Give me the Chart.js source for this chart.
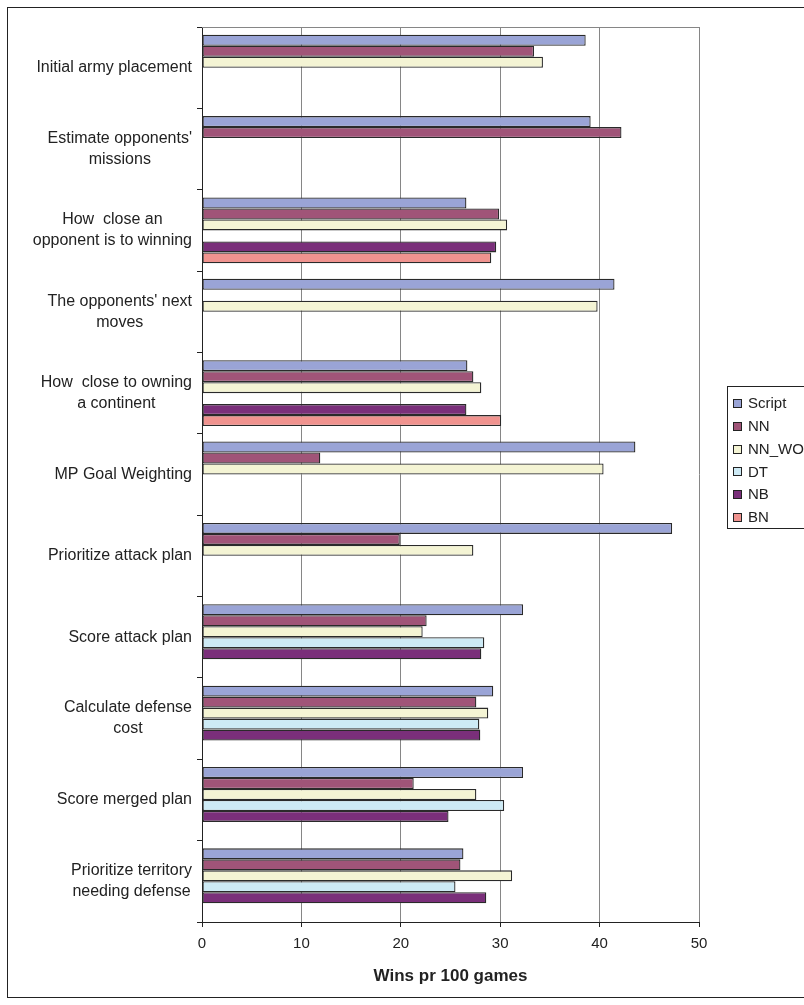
<!DOCTYPE html>
<html>
<head>
<meta charset="utf-8">
<script src="https://cdn.jsdelivr.net/npm/chart.js@4/dist/chart.umd.min.js"></script>
<style>
  html, body { margin: 0; padding: 0; background: #fff; }
  #wrap { width: 804px; height: 1005px; position: relative; }
</style>
</head>
<body>
<div id="wrap"><canvas id="c" width="804" height="1005"></canvas></div>
<script>
const categories = [
  ["Initial army placement"],
  ["Estimate opponents'", "missions"],
  ["How  close an", "opponent is to winning"],
  ["The opponents' next", "moves"],
  ["How  close to owning", "a continent"],
  ["MP Goal Weighting"],
  ["Prioritize attack plan"],
  ["Score attack plan"],
  ["Calculate defense", "cost"],
  ["Score merged plan"],
  ["Prioritize territory", "needing defense"]
];
const seriesNames = ["Script", "NN", "NN_WO", "DT", "NB", "BN"];
const scriptVals = [38.6, 39.1, 26.6, 41.5, 26.7, 43.6, 47.3, 32.3, 29.3, 32.3, 26.3];
const nnVals     = [33.4, 42.2, 29.9, null, 27.3, 11.9, 19.9, 22.6, 27.6, 21.3, 26.0];
const nnWoVals   = [34.3, null, 30.7, 39.8, 28.1, 40.4, 27.3, 22.2, 28.8, 27.6, 31.2];
const dtVals     = [null, null, null, null, null, null, null, 28.4, 27.9, 30.4, 25.5];
const nbVals     = [null, null, 29.6, null, 26.6, null, null, 28.1, 28.0, 24.8, 28.6];
const bnVals     = [null, null, 29.1, null, 30.1, null, null, null, null, null, null];
const xTicks = [0, 10, 20, 30, 40, 50];
const xTitle = "Wins pr 100 games";

const colors = ["#9AA4D6", "#A05478", "#F4F4D4", "#CDEAF5", "#7A2F7A", "#F0938F"];
const allVals = [scriptVals, nnVals, nnWoVals, dtVals, nbVals, bnVals];

const FONT = "'Liberation Sans', Arial, sans-serif";
const TEXT = "#222";

const bgPlugin = {
  id: 'bg',
  beforeDraw(chart) {
    const ctx = chart.ctx;
    ctx.save();
    ctx.fillStyle = '#fff';
    ctx.fillRect(0, 0, chart.width, chart.height);
    ctx.strokeStyle = '#222';
    ctx.lineWidth = 1;
    ctx.strokeRect(7.5, 7.5, 900, 990);
    ctx.restore();
  },
  afterDraw(chart) {
    const ctx = chart.ctx;
    const a = chart.chartArea;
    ctx.save();
    // top border of plot area
    ctx.strokeStyle = '#868686';
    ctx.lineWidth = 1;
    ctx.beginPath();
    ctx.moveTo(a.left, Math.round(a.top) + 0.5);
    ctx.lineTo(a.right, Math.round(a.top) + 0.5);
    ctx.stroke();

    // category labels: block right-aligned, lines centered within block
    const ys = chart.scales.y;
    ctx.font = "16px " + FONT;
    ctx.fillStyle = TEXT;
    ctx.textBaseline = 'middle';
    ctx.textAlign = 'center';
    const lh = 21;
    const rightEdge = 192;
    categories.forEach((lines, i) => {
      const yc = ys.getPixelForTick(i);
      const w = Math.max(...lines.map(l => ctx.measureText(l).width));
      const cx = rightEdge - w / 2;
      const y0 = yc - (lines.length - 1) * lh / 2;
      lines.forEach((l, k) => ctx.fillText(l, cx, y0 + k * lh));
    });

    // legend box
    const lx = 727.5, ly = 386.5, lw = 120, lhBox = 142;
    ctx.strokeStyle = '#222';
    ctx.fillStyle = '#fff';
    ctx.fillRect(lx, ly, lw, lhBox);
    ctx.strokeRect(lx, ly, lw, lhBox);
    ctx.font = "15px " + FONT;
    ctx.textAlign = 'left';
    ctx.textBaseline = 'middle';
    chart.data.datasets.forEach((ds, i) => {
      const yy = 403 + i * 22.8;
      ctx.fillStyle = ds.backgroundColor;
      ctx.fillRect(733.5, Math.round(yy - 4) + 0.5, 8, 8);
      ctx.strokeStyle = '#222';
      ctx.strokeRect(733.5, Math.round(yy - 4) + 0.5, 8, 8);
      ctx.fillStyle = TEXT;
      ctx.fillText(ds.label, 748, yy + 1);
    });
    ctx.restore();
  }
};

const chart = new Chart(document.getElementById('c'), {
  type: 'bar',
  data: {
    labels: categories.map(l => l.join(' ')),
    datasets: seriesNames.map((n, i) => ({
      label: n,
      data: allVals[i],
      backgroundColor: colors[i],
      borderColor: '#2a2a2a',
      borderWidth: 1.3,
      borderSkipped: false,
      categoryPercentage: 0.81,
      barPercentage: 1.0
    }))
  },
  options: {
    indexAxis: 'y',
    responsive: false,
    animation: false,
    devicePixelRatio: 1,
    layout: { padding: { top: 27, right: 105, left: 0, bottom: 0 } },
    plugins: {
      legend: { display: false },
      tooltip: { enabled: false }
    },
    scales: {
      x: {
        min: 0, max: 50,
        afterBuildTicks(scale) { scale.ticks = xTicks.map(v => ({ value: v })); },
        afterFit(scale) { scale.height = 83; },
        grid: { color: '#868686', lineWidth: 1, drawTicks: true, tickLength: 5, tickColor: '#222' },
        border: { color: '#222', width: 1 },
        ticks: { color: TEXT, font: { family: FONT, size: 15 }, padding: 8, maxRotation: 0 },
        title: {
          display: true, text: xTitle, color: TEXT,
          font: { family: FONT, size: 17, weight: 'bold' },
          padding: { top: 4, bottom: 18 }
        }
      },
      y: {
        afterFit(scale) { scale.width = 202; },
        grid: { drawOnChartArea: false, drawTicks: true, tickLength: 5, color: '#222', offset: true },
        border: { color: '#222', width: 1 },
        ticks: { display: false }
      }
    }
  },
  plugins: [bgPlugin]
});
</script>
</body>
</html>
